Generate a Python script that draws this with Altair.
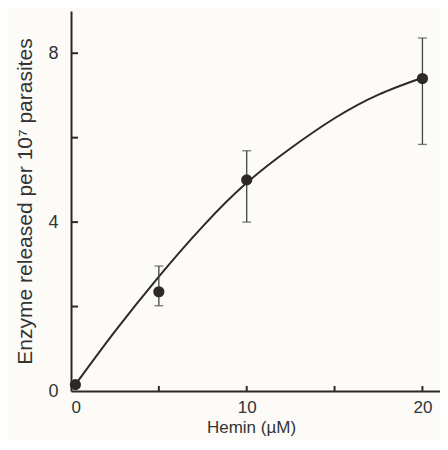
import altair as alt
import pandas as pd

# Measured points (Hemin µM vs enzyme released per 10^7 parasites)
hemin = [0.25, 5, 10, 20]
enzyme = [0.15, 2.35, 5.0, 7.4]
err_low = [0.15, 2.02, 4.0, 5.84]
err_high = [0.15, 2.96, 5.69, 8.36]

# Fitted curve
curve_x = [0.25, 2.5, 5, 7.5, 10, 12.5, 15, 17.5, 20]
curve_y = [0.15, 1.41, 2.71, 3.90, 4.93, 5.75, 6.46, 7.02, 7.42]

# Axis tick positions and labels
x_ticks = [5, 10, 15, 20]
x_labels = [0, 10, 20]
y_ticks = [2, 4, 6, 8]
y_labels = [0, 4, 8]

ink = "#2b2a29"
font = "Liberation Sans"

pts = pd.DataFrame({"x": hemin, "y": enzyme, "lo": err_low, "hi": err_high})
err = pts[pts["hi"] > pts["lo"]]
crv = pd.DataFrame({"x": curve_x, "y": curve_y})
xt = pd.DataFrame({"x": x_ticks})
yt = pd.DataFrame({"y": y_ticks})

xscale = alt.Scale(domain=[0, 21], nice=False, zero=False)
yscale = alt.Scale(domain=[0, 9], nice=False, zero=False)

xaxis = alt.Axis(
    values=x_labels, ticks=False, tickSize=0, grid=False, labelPadding=8,
    labelFontSize=17, labelFont=font, labelColor="#333333",
    domainColor=ink, domainWidth=2,
    title="Hemin (µM)", titleFont=font, titleFontSize=17, titleFontWeight="normal",
    titleColor="#333333", titleX=180, titleY=41, titleBaseline="alphabetic",
)
yaxis = alt.Axis(
    values=y_labels, ticks=False, tickSize=0, grid=False, labelPadding=13,
    labelFontSize=18, labelFont=font, labelColor="#333333",
    domainColor=ink, domainWidth=2,
    title="Enzyme released per 10⁷ parasites", titleFont=font, titleFontSize=21,
    titleFontWeight="normal", titleColor="#333333",
    titleX=-40, titleY=190, titleBaseline="alphabetic", titleAngle=270,
)

line = alt.Chart(crv).mark_line(color=ink, strokeWidth=2, interpolate="natural").encode(
    x=alt.X("x:Q", scale=xscale, axis=xaxis),
    y=alt.Y("y:Q", scale=yscale, axis=yaxis),
)

bars = alt.Chart(err).mark_rule(color="#444444", strokeWidth=1.3).encode(
    x="x:Q", y="lo:Q", y2="hi:Q"
)
cap_hi = alt.Chart(err).mark_tick(color="#444444", size=9, thickness=1.3, orient="horizontal").encode(
    x="x:Q", y="hi:Q"
)
cap_lo = alt.Chart(err).mark_tick(color="#444444", size=9, thickness=1.3, orient="horizontal").encode(
    x="x:Q", y="lo:Q"
)

dots = alt.Chart(pts).mark_circle(color=ink, opacity=1, size=125).encode(
    x="x:Q", y="y:Q"
)

xtick_marks = alt.Chart(xt).mark_rule(color=ink, strokeWidth=2).encode(
    x="x:Q", y=alt.value(380), y2=alt.value(375)
)
ytick_marks = alt.Chart(yt).mark_rule(color=ink, strokeWidth=2).encode(
    y="y:Q", x=alt.value(0), x2=alt.value(7)
)

chart = alt.layer(line, bars, cap_hi, cap_lo, dots, xtick_marks, ytick_marks).properties(
    width=369,
    height=380,
    padding={"left": 63, "top": 3, "right": 0, "bottom": 49},
    autosize=alt.AutoSizeParams(type="none"),
    background="#fcfbf7",
).configure_view(stroke=None)

chart.save("out.html", embed_options={"renderer": "svg", "actions": False})
